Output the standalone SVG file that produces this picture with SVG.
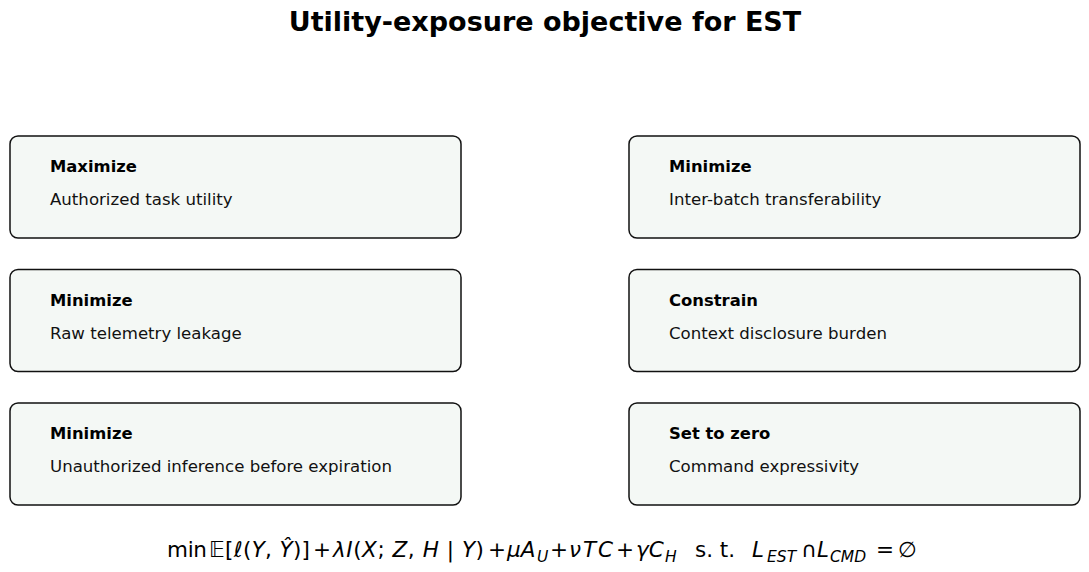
<svg xmlns="http://www.w3.org/2000/svg" width="1089" height="572" viewBox="0 0 1089 572">
<style>
.box{fill:#f4f8f5;stroke:#111;stroke-width:1.5}
.hd{font-family:"DejaVu Sans",sans-serif;font-weight:bold;font-size:16.4px;fill:#000}
.bd{font-family:"DejaVu Sans",sans-serif;font-size:16.6px;fill:#111}
.title{font-family:"DejaVu Sans",sans-serif;font-weight:bold;font-size:27px;fill:#000}
.eq{font-family:"DejaVu Sans",sans-serif;font-size:21.5px;fill:#000}
.it{font-style:italic}
.sub{font-family:"DejaVu Sans",sans-serif;font-size:15.5px;font-style:italic;fill:#000}
</style>
<rect width="1089" height="572" fill="#fff"/>
<text class="title" x="545" y="31" text-anchor="middle">Utility-exposure objective for EST</text>
<g id="n1"><rect class="box" x="10" y="136" width="451" height="102" rx="8"/><text class="hd" x="50" y="172">Maximize</text><text class="bd" x="50" y="205">Authorized task utility</text></g>
<g id="n2"><rect class="box" x="10" y="269.5" width="451" height="102" rx="8"/><text class="hd" x="50" y="305.5">Minimize</text><text class="bd" x="50" y="338.5">Raw telemetry leakage</text></g>
<g id="n3"><rect class="box" x="10" y="403" width="451" height="102" rx="8"/><text class="hd" x="50" y="439">Minimize</text><text class="bd" x="50" y="472">Unauthorized inference before expiration</text></g>
<g id="n4"><rect class="box" x="629" y="136" width="451" height="102" rx="8"/><text class="hd" x="669" y="172">Minimize</text><text class="bd" x="669" y="205">Inter-batch transferability</text></g>
<g id="n5"><rect class="box" x="629" y="269.5" width="451" height="102" rx="8"/><text class="hd" x="669" y="305.5">Constrain</text><text class="bd" x="669" y="338.5">Context disclosure burden</text></g>
<g id="n6"><rect class="box" x="629" y="403" width="451" height="102" rx="8"/><text class="hd" x="669" y="439">Set to zero</text><text class="bd" x="669" y="472">Command expressivity</text></g>
<g id="connectors"></g>
<g id="formula">
<text class="eq" x="167" y="557" textLength="40" lengthAdjust="spacing">min</text>
<text class="eq" x="209" y="557" textLength="101" lengthAdjust="spacing">𝔼[<tspan class="it">ℓ</tspan>(<tspan class="it">Y</tspan>, <tspan class="it">Ŷ</tspan>)]</text>
<text class="eq" x="313" y="557">+</text>
<text class="eq" x="333" y="557" textLength="151" lengthAdjust="spacing"><tspan class="it">λI</tspan>(<tspan class="it">X</tspan>; <tspan class="it">Z</tspan>, <tspan class="it">H</tspan> | <tspan class="it">Y</tspan>)</text>
<text class="eq" x="488" y="557">+</text>
<text class="eq it" x="507" y="557">μA</text>
<text class="sub" x="537" y="562">U</text>
<text class="eq" x="550" y="557">+</text>
<text class="eq it" x="569" y="557" textLength="44" lengthAdjust="spacing">νTC</text>
<text class="eq" x="616" y="557">+</text>
<text class="eq it" x="636" y="557">γC</text>
<text class="sub" x="665" y="562">H</text>
<text class="eq" x="695" y="557" textLength="40" lengthAdjust="spacing">s. t.</text>
<text class="eq it" x="752" y="557">L</text>
<text class="sub" x="767" y="562">EST</text>
<text class="eq" x="801" y="557">∩</text>
<text class="eq it" x="817" y="557">L</text>
<text class="sub" x="830" y="562">CMD</text>
<text class="eq" x="876" y="557">=</text>
<text class="eq" x="898" y="557">∅</text>
</g>
</svg>
